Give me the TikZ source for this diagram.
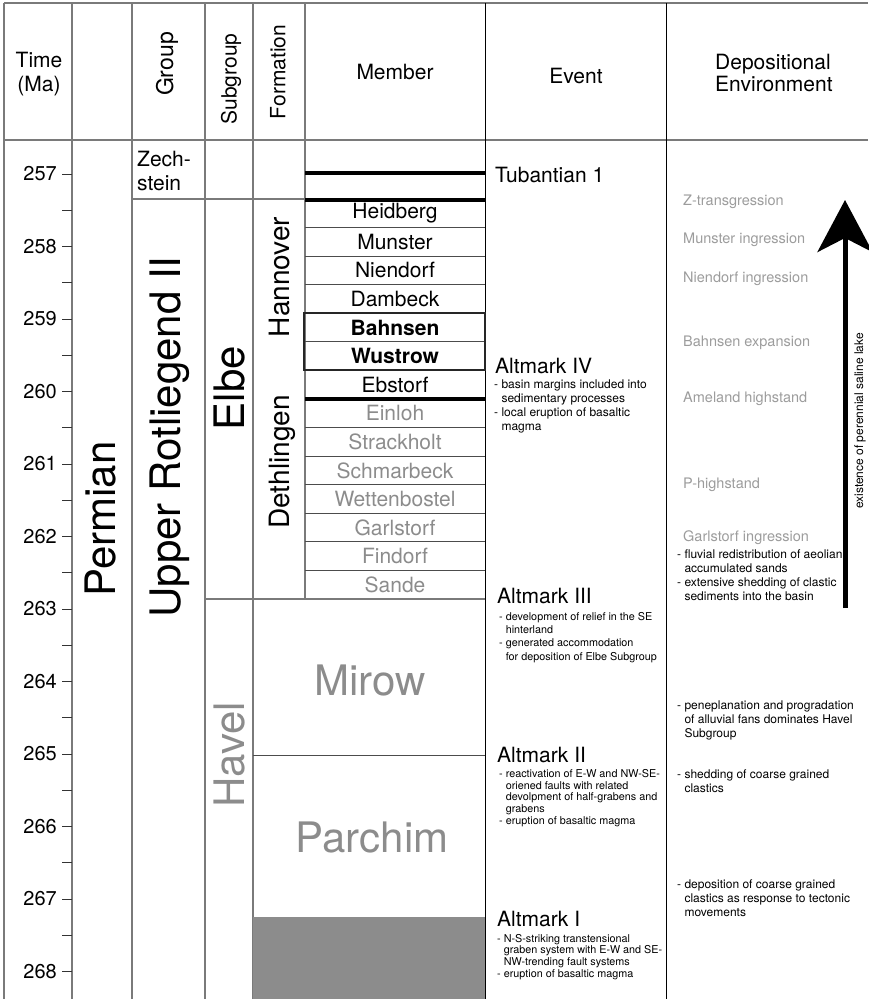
\documentclass[tikz,border=0pt]{standalone}
\usepackage{fontspec}
\setmainfont{TeX Gyre Heros}
\usepackage{xcolor}
\usepackage{tikz}
\usetikzlibrary{positioning,calc,arrows.meta}

\definecolor{unitgray}{HTML}{8C8C8C}
\definecolor{envgray}{HTML}{9C9C9C}
\definecolor{framegray}{HTML}{7A7A7A}
\newcommand{\fsz}[2]{\fontsize{#1}{#2}\selectfont}
\newcommand{\hang}{\phantom{- }}

\begin{document}
\begin{tikzpicture}[x=1pt,y=-1pt,
  frame/.style={draw=framegray,line width=1.2pt},
  rowline/.style={draw=black!70,line width=0.9pt},
  thickline/.style={draw=black,line width=4pt},
  hdr/.style={font=\fsz{21}{24},align=center,inner sep=0pt},
  vhdr/.style={hdr,rotate=90},
  bigunit/.style={font=\fsz{42}{48},rotate=90,inner sep=0pt},
  mem/.style={font=\fsz{21}{24},inner sep=0pt},
  memb/.style={mem,font=\fsz{21}{24}\bfseries},
  old/.style={mem,text=unitgray},
  evt/.style={font=\fsz{21}{24},anchor=base west,inner sep=0pt},
  evtnote/.style={font=\fsz{10.8}{13},align=left,anchor=north west,inner sep=0pt},
  envlabel/.style={font=\fsz{14.5}{17},text=envgray,anchor=base west,inner sep=0pt},
  envnote/.style={font=\fsz{12}{14},align=left,anchor=north west,inner sep=0pt},
  lake/.style={line width=5pt,-{Stealth[length=52pt,width=55pt,inset=14pt]}}]
  \useasboundingbox (0,0) rectangle (868,999);

  % frame of the table
  \draw[frame] (4,3) -- (868,3);
  \draw[frame] (4,140) -- (868,140);
  \foreach \x in {4,72,132,205,253}
    \draw[frame] (\x,3) -- (\x,999);
  \draw[frame] (305,3) -- (305,599);
  \draw[draw=black,line width=1pt] (485,3) -- (485,999);
  \draw[draw=black,line width=1pt] (666,3) -- (666,999);

  % headers
  \node[hdr] (time) at (39,74) {Time\\(Ma)};
  \node[vhdr,font=\fsz{23}{26}] (group) at (167,64) {Group};
  \node[vhdr] (subgroup) at (231,79) {Subgroup};
  \node[vhdr] (formation) at (278,72) {Formation};
  \node[hdr] (member) at (395,72) {Member};
  \node[hdr] (event) at (576,76) {Event};
  \node[hdr,font=\fsz{21}{22},align=left,anchor=west] (environment) at (715,73) {Depositional\\Environment};

  % time scale
  \foreach \t [count=\i from 0] in {257,...,268} {
    \draw[black!80,line width=1pt] (62,174+72.5*\i) -- (72,174+72.5*\i);
    \node[font=\fsz{20}{22},anchor=east,inner sep=0pt] (t\t) at (57,174+72.5*\i) {\t};
  }
  \foreach \i in {0,...,10}
    \draw[black!80,line width=1pt] (62,210.25+72.5*\i) -- (72,210.25+72.5*\i);

  % stratigraphic units
  \node[bigunit] (permian) at (101,519) {Permian};
  \node[font=\fsz{21}{24},align=left,inner sep=0pt,anchor=north west] (zech) at (137,151) {Zech-\\stein};
  \draw[frame] (132,199) -- (305,199);
  \node[bigunit] (rotliegend) at (170,437) {Upper Rotliegend II};
  \node[bigunit] (elbe) at (230,388) {Elbe};
  \node[bigunit,text=unitgray] (havel) at (230,755) {Havel};
  \draw[frame] (205,599) -- (485,599);
  \node[font=\fsz{28}{32},rotate=90,inner sep=0pt] (hannover) at (280,277) {Hannover};
  \node[font=\fsz{28}{32},rotate=90,inner sep=0pt] (dethlingen) at (282,462) {Dethlingen};

  % members
  \foreach \name/\sty [count=\i from 0] in {Heidberg/mem,Munster/mem,Niendorf/mem,Dambeck/mem,
      Bahnsen/memb,Wustrow/memb,Ebstorf/mem,Einloh/old,Strackholt/old,Schmarbeck/old,
      Wettenbostel/old,Garlstorf/old,Findorf/old,Sande/old}
    \node[\sty] (m\name) at (395,199+28.57*\i+14.3) {\name};
  \foreach \i in {1,...,13}
    \draw[rowline] (305,199+28.57*\i) -- (485,199+28.57*\i);
  \draw[thickline] (305,172.5) -- (485,172.5);
  \draw[thickline] (305,199.5) -- (485,199.5);
  \draw[thickline] (305,398.5) -- (485,398.5);
  \draw[draw=black!85,line width=2pt] (304,313.3) rectangle (485,370.4);

  \node[bigunit,rotate=-90,text=unitgray] (mirow) at (370,680) {Mirow};
  \draw[rowline] (253,755) -- (485,755);
  \node[bigunit,rotate=-90,text=unitgray] (parchim) at (372,837) {Parchim};
  \fill[unitgray] (253,917) rectangle (485,999);

  % events
  \node[evt] (tubantian) at (495,182) {Tubantian 1};
  \node[evt] (altIV) at (495,373) {Altmark IV};
  \node[evtnote,font=\fsz{12}{14}] (altIVnote) at (494,380)
    {- basin margins included into\\\hang sedimentary processes\\- local eruption of basaltic\\\hang magma};
  \node[evt] (altIII) at (497,603) {Altmark III};
  \node[evtnote,font=\fsz{10.8}{13.3}] (altIIInote) at (499,612)
    {- development of relief in the SE\\\hang hinterland\\- generated accommodation\\\hang for deposition of Elbe Subgroup};
  \node[evt] (altII) at (497,762) {Altmark II};
  \node[evtnote,font=\fsz{10.8}{11.8}] (altIInote) at (499,769)
    {- reactivation of E-W and NW-SE-\\\hang oriened faults with related\\\hang devolpment of half-grabens and\\\hang grabens\\- eruption of basaltic magma};
  \node[evt] (altI) at (497,926) {Altmark I};
  \node[evtnote,font=\fsz{10.8}{11.7}] (altInote) at (497,934)
    {- N-S-striking transtensional\\\hang graben system with E-W and SE-\\\hang NW-trending fault systems\\- eruption of basaltic magma};

  % depositional environment
  \node[envlabel] (ztrans) at (683,205) {Z-transgression};
  \node[envlabel] (munsterin) at (683,243) {Munster ingression};
  \node[envlabel] (niendorfin) at (683,282) {Niendorf ingression};
  \node[envlabel] (bahnsenex) at (683,346) {Bahnsen expansion};
  \node[envlabel] (ameland) at (683,402) {Ameland highstand};
  \node[envlabel] (phigh) at (683,488) {P-highstand};
  \node[envlabel] (garlstorfin) at (683,541) {Garlstorf ingression};
  \node[envnote] (fluvial) at (677,549.5)
    {- fluvial redistribution of aeolian\\\hang accumulated sands\\- extensive shedding of clastic\\\hang sediments into the basin};
  \node[envnote] (peneplan) at (677,701)
    {- peneplanation and progradation\\\hang of alluvial fans dominates Havel\\\hang Subgroup};
  \node[envnote] (shedding) at (677,770)
    {- shedding of coarse grained\\\hang clastics};
  \node[envnote] (deposition) at (677,880)
    {- deposition of coarse grained\\\hang clastics as response to tectonic\\\hang movements};

  \coordinate (lakebot) at (845,608);
  \coordinate (laketop) at (845,200);
  \draw[lake] (lakebot) -- (laketop);
  \node[font=\fsz{12}{14},rotate=90,inner sep=0pt] (lakelabel) at (860,421) {existence of perennial saline lake};
\end{tikzpicture}
\end{document}
